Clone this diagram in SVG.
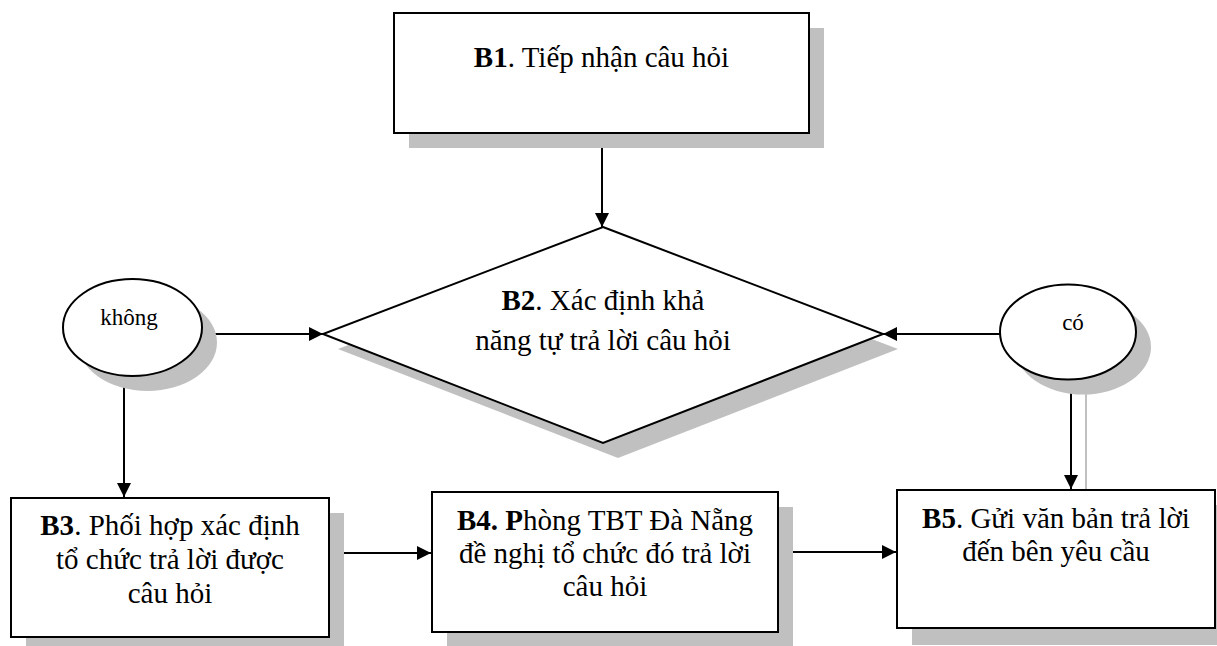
<svg xmlns="http://www.w3.org/2000/svg" width="1217" height="646" viewBox="0 0 1217 646">
<style>
.box{fill:#fff;stroke:#000;stroke-width:2}
.sh{fill:#c0c0c0;stroke:none}
.t{font-family:"Liberation Serif","Times New Roman",serif;font-size:29px;fill:#000;text-anchor:middle}
.s{font-family:"Liberation Serif","Times New Roman",serif;font-size:23px;fill:#000;text-anchor:middle}
.c{stroke:#000;stroke-width:2;fill:none}
</style>
<defs>
<marker id="ah" viewBox="0 0 14 14" refX="14" refY="7" markerWidth="14" markerHeight="14" markerUnits="userSpaceOnUse" orient="auto">
<path d="M0,0 L14,7 L0,14 Z" fill="#000"/>
</marker>
</defs>
<rect width="1217" height="646" fill="#fff"/>
<g id="connectors">
<line class="c" x1="602" y1="133" x2="602" y2="227" marker-end="url(#ah)"/>
<line class="c" x1="203" y1="334" x2="323" y2="334" marker-end="url(#ah)"/>
<line class="c" x1="1000" y1="334" x2="883" y2="334" marker-end="url(#ah)"/>
<line class="c" x1="124" y1="376" x2="124" y2="497" marker-end="url(#ah)"/>
<line x1="1086" y1="380" x2="1086" y2="490" stroke="#c0c0c0" stroke-width="2"/>
<line x1="1078" y1="490" x2="1093" y2="490" stroke="#c0c0c0" stroke-width="2"/>
<line class="c" x1="1071" y1="380" x2="1071" y2="489" marker-end="url(#ah)"/>
<line class="c" x1="329" y1="553" x2="431" y2="553" marker-end="url(#ah)"/>
<line class="c" x1="778" y1="552" x2="896" y2="552" marker-end="url(#ah)"/>
</g>
<g id="b1">
<rect class="sh" x="409" y="28" width="415" height="120"/>
<rect class="box" x="394" y="13" width="415" height="120"/>
<text class="t" x="601.5" y="67"><tspan font-weight="bold">B1</tspan>. Tiếp nhận câu hỏi</text>
</g>
<g id="b2">
<polygon class="sh" points="618,242 898,349 618,458 338,349"/>
<polygon class="box" points="603,227 883,334 603,443 323,334"/>
<text class="t" x="603" y="310"><tspan font-weight="bold">B2</tspan>. Xác định khả</text>
<text class="t" x="603" y="350">năng tự trả lời câu hỏi</text>
</g>
<g id="khong">
<ellipse class="sh" cx="147.5" cy="342.5" rx="69.5" ry="48.5"/>
<ellipse class="box" cx="132.5" cy="327.5" rx="69.5" ry="48.5"/>
<text class="s" x="129" y="325">không</text>
</g>
<g id="co">
<ellipse class="sh" cx="1083" cy="347" rx="68" ry="47.5"/>
<ellipse class="box" cx="1068" cy="332" rx="68" ry="47.5"/>
<text class="s" x="1073" y="330">có</text>
</g>
<g id="b3">
<rect class="sh" x="26" y="513" width="318" height="139"/>
<rect class="box" x="11" y="498" width="318" height="139"/>
<text class="t" x="170" y="535"><tspan font-weight="bold">B3</tspan>. Phối hợp xác định</text>
<text class="t" x="170" y="569">tổ chức trả lời được</text>
<text class="t" x="170" y="603">câu hỏi</text>
</g>
<g id="b4">
<rect class="sh" x="447" y="507" width="346" height="140"/>
<rect class="box" x="432" y="492" width="346" height="140"/>
<text class="t" x="605" y="530"><tspan font-weight="bold">B4. P</tspan>hòng TBT Đà Nẵng</text>
<text class="t" x="605" y="563">đề nghị tổ chức đó trả lời</text>
<text class="t" x="605" y="596">câu hỏi</text>
</g>
<g id="b5">
<rect class="sh" x="912" y="505" width="318" height="140"/>
<rect class="box" x="897" y="490" width="318" height="138"/>
<text class="t" x="1056" y="528"><tspan font-weight="bold">B5</tspan>. Gửi văn bản trả lời</text>
<text class="t" x="1056" y="561">đến bên yêu cầu</text>
</g>
</svg>
